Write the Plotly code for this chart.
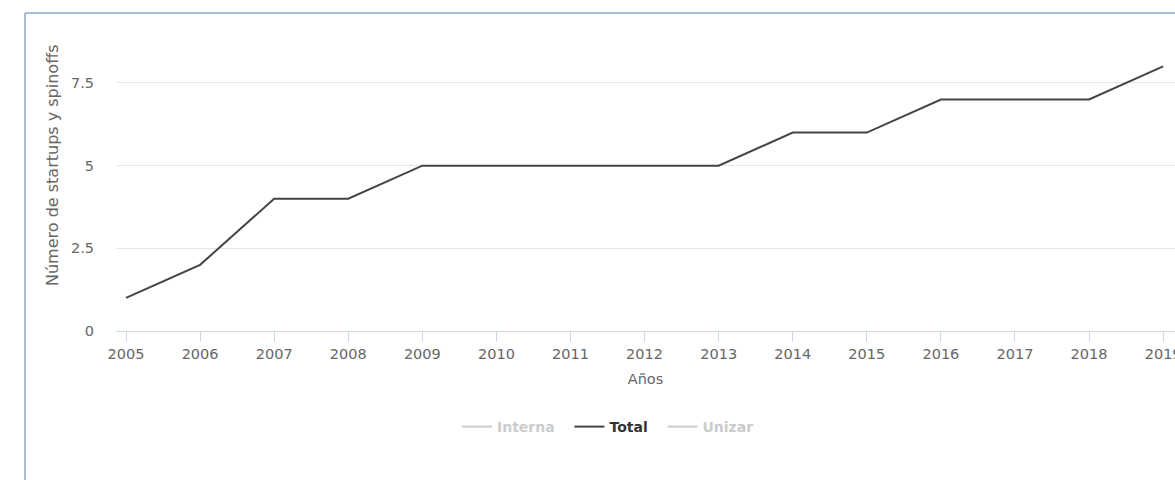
import plotly.graph_objects as go

# Data
years = ["2005", "2006", "2007", "2008", "2009", "2010", "2011", "2012",
         "2013", "2014", "2015", "2016", "2017", "2018", "2019"]
total = [1, 2, 4, 4, 5, 5, 5, 5, 5, 6, 6, 7, 7, 7, 8]
# hidden series (legend only in the reference), values estimated
interna = [0, 1, 2, 2, 3, 3, 3, 3, 3, 3, 3, 4, 4, 4, 4]
unizar = [1, 1, 2, 2, 2, 2, 2, 2, 2, 3, 3, 3, 3, 3, 4]

y_ticks = [0, 2.5, 5, 7.5]
y_tick_text = ["0", "2.5", "5", "7.5"]

FONT = "DejaVu Sans"
W, H = 1175, 480
L, R, T, B = 116, 0, 40, 149
PW, PH = W - L - R, H - T - B
NB = "\u00a0\u00a0"


def px_x(px):
    # screen pixel -> paper coordinate
    return (px - L) / PW


def px_y(py):
    return (H - B - py) / PH


fig = go.Figure()
fig.add_trace(go.Scatter(
    x=years, y=interna, mode="lines", visible="legendonly",
    name="<span style='color:#999999'>Interna" + NB + "</span>",
    line=dict(color="#999999", width=2),
))
fig.add_trace(go.Scatter(
    x=years, y=total, mode="lines",
    name="<span style='color:#333333'>Total" + NB + "</span>",
    line=dict(color="#434348", width=2),
))
fig.add_trace(go.Scatter(
    x=years, y=unizar, mode="lines", visible="legendonly",
    name="<span style='color:#999999'>Unizar</span>",
    line=dict(color="#999999", width=2),
))

fig.update_layout(
    width=W, height=H,
    margin=dict(l=L, r=R, t=T, b=B, autoexpand=False),
    paper_bgcolor="white", plot_bgcolor="white",
    font=dict(family=FONT, size=14, color="#666666"),
    showlegend=True,
    legend=dict(
        orientation="h", x=px_x(608), xanchor="center",
        y=px_y(427), yanchor="middle",
        font=dict(family=FONT, size=14, color="#333333", weight="bold"),
        itemclick=False, itemdoubleclick=False,
    ),
    xaxis=dict(
        type="category", range=[-0.135, 14.16], automargin=False,
        showgrid=False, showline=True, linecolor="#ccd6eb", linewidth=1,
        ticks="outside", ticklen=10, tickcolor="#ccd6eb",
        tickfont=dict(size=14.5, color="#666666"),
        title=dict(text="Años", standoff=12, font=dict(size=14.5, color="#666666")),
        zeroline=False, fixedrange=True,
    ),
    yaxis=dict(
        range=[0, 8.8], tickvals=y_ticks, ticktext=y_tick_text, automargin=False,
        showgrid=True, gridcolor="#e6e6e6", gridwidth=1,
        showline=False, zeroline=False,
        ticks="outside", ticklen=18, tickcolor="rgba(0,0,0,0)",
        tickfont=dict(size=14.5, color="#666666"),
        fixedrange=True,
    ),
    annotations=[dict(
        text="Número de startups y spinoffs", textangle=-90,
        xref="paper", yref="paper", x=px_x(52), y=px_y(165),
        xanchor="center", yanchor="middle", showarrow=False,
        font=dict(family=FONT, size=16, color="#666666"),
    )],
    shapes=[
        # container border (left and top edges visible)
        dict(type="line", xref="paper", yref="paper",
             x0=px_x(25), x1=px_x(25), y0=px_y(482), y1=px_y(13),
             line=dict(color="#8ea6c6", width=1.5), layer="below"),
        dict(type="line", xref="paper", yref="paper",
             x0=px_x(25), x1=px_x(1180), y0=px_y(13), y1=px_y(13),
             line=dict(color="#8ea6c6", width=1.5), layer="below"),
    ],
)

fig.write_html(
    "out.html",
    config={"displayModeBar": False, "responsive": False},
    post_script="document.body.style.margin='0';document.body.style.overflow='hidden';",
)
